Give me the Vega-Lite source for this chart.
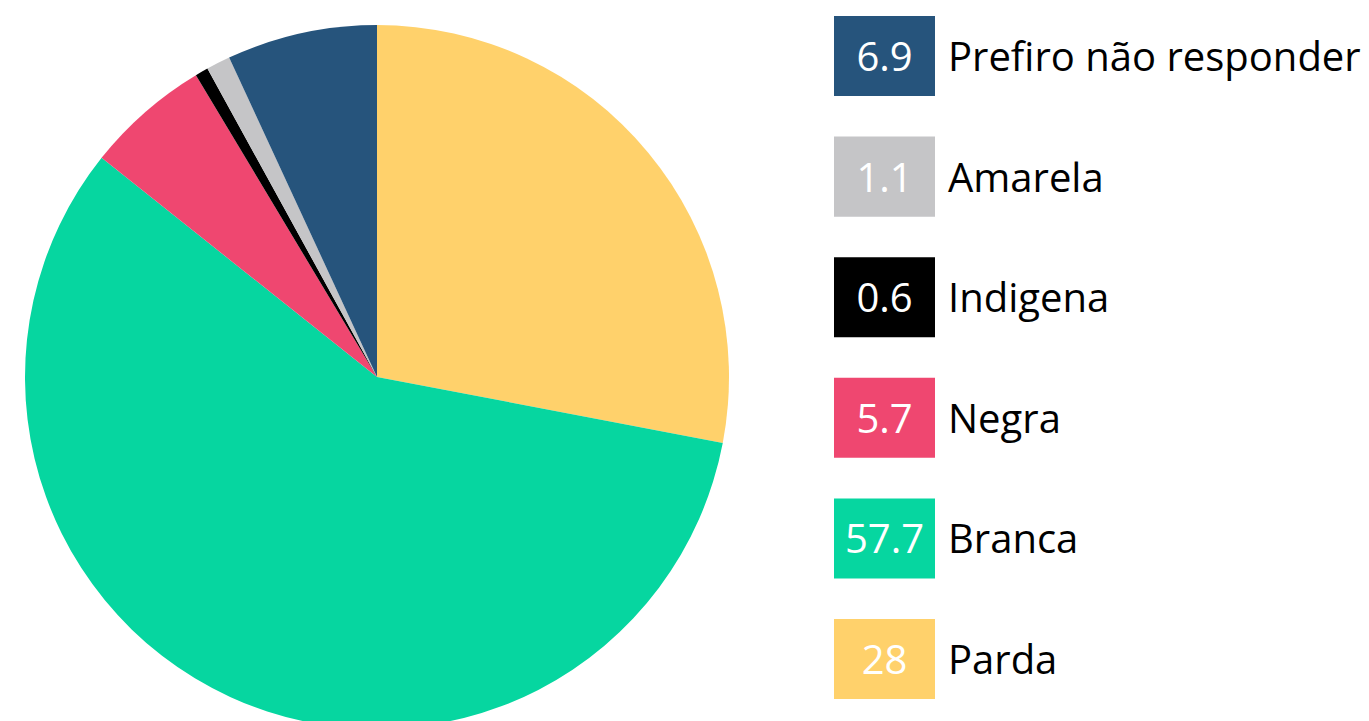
{
  "$schema": "https://vega.github.io/schema/vega-lite/v6.json",
  "padding": {"left": 16, "top": 16, "right": 0, "bottom": 0},
  "background": "white",
  "config": {"view": {"stroke": null}},
  "data": {
    "values": [
      {"label": "Parda", "value": 28, "order": 1},
      {"label": "Branca", "value": 57.7, "order": 2},
      {"label": "Negra", "value": 5.7, "order": 3},
      {"label": "Indigena", "value": 0.6, "order": 4},
      {"label": "Amarela", "value": 1.1, "order": 5},
      {"label": "Prefiro não responder", "value": 6.9, "order": 6}
    ]
  },
  "hconcat": [
    {
      "width": 722,
      "height": 722,
      "mark": {"type": "arc", "radius": 352, "stroke": null},
      "encoding": {
        "theta": {"field": "value", "type": "quantitative", "stack": true},
        "order": {"field": "order", "type": "quantitative", "sort": "ascending"},
        "color": {
          "field": "label",
          "type": "nominal",
          "legend": null,
          "scale": {
            "domain": ["Parda", "Branca", "Negra", "Indigena", "Amarela", "Prefiro não responder"],
            "range": ["#FFD16B", "#06D6A0", "#EF4770", "#000000", "#C5C5C7", "#26547C"]
          }
        }
      }
    },
    {
      "width": 535,
      "height": 722,
      "encoding": {
        "y": {
          "field": "label",
          "type": "nominal",
          "sort": {"field": "order", "order": "descending"},
          "axis": null,
          "scale": {"paddingInner": 0.336, "paddingOuter": 0.1615, "align": 0}
        }
      },
      "layer": [
        {
          "mark": {"type": "rect"},
          "encoding": {
            "x": {"value": 0},
            "x2": {"value": 101},
            "color": {"field": "label", "type": "nominal", "legend": null}
          }
        },
        {
          "mark": {"type": "text", "align": "center", "baseline": "middle", "font": "Open Sans", "fontSize": 40, "color": "white", "dy": 3},
          "encoding": {
            "x": {"value": 50.5},
            "text": {"field": "value", "type": "quantitative"}
          }
        },
        {
          "mark": {"type": "text", "align": "left", "baseline": "middle", "font": "Open Sans", "fontSize": 40, "color": "black", "dy": 3},
          "encoding": {
            "x": {"value": 114},
            "text": {"field": "label", "type": "nominal"}
          }
        }
      ]
    }
  ],
  "spacing": 96
}
